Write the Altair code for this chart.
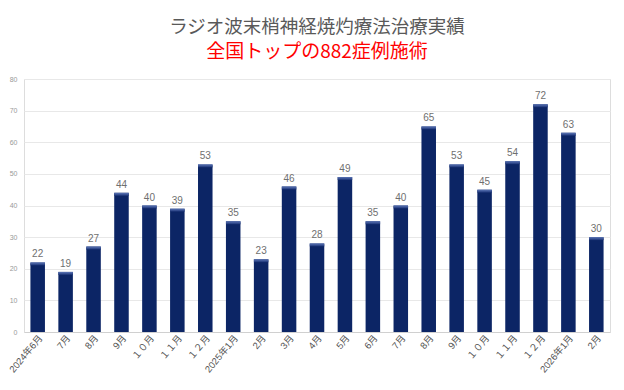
import json
import altair as alt
import pandas as pd

months = ["2024年6月", "7月", "8月", "9月", "１０月", "１１月", "１２月",
          "2025年1月", "2月", "3月", "4月", "5月", "6月", "7月", "8月", "9月",
          "１０月", "１１月", "１２月", "2026年1月", "2月"]
counts = [22, 19, 27, 44, 40, 39, 53, 35, 23, 46, 28, 49, 35, 40, 65, 53, 45, 54, 72, 63, 30]
y_ticks = [0, 10, 20, 30, 40, 50, 60, 70, 80]

title_text = "ラジオ波末梢神経焼灼療法治療実績"
subtitle_text = "全国トップの882症例施術"

df = pd.DataFrame({"idx": list(range(len(months))), "label": months, "count": counts})

FONT = "Noto Sans CJK JP"
NUMFONT = "Liberation Sans, Noto Sans CJK JP"

x_enc = alt.X(
    "idx:O",
    scale=alt.Scale(paddingInner=0.48, paddingOuter=0.23),
    axis=alt.Axis(
        title=None,
        labelExpr=json.dumps(months, ensure_ascii=False) + "[datum.value]",
        labelAngle=-50,
        labelAlign="right",
        labelBaseline="middle",
        labelFontSize=9.5,
        labelColor="#555555",
        labelPadding=4,
        labelOffset=3,
        labelOverlap=False,
        ticks=False,
        domainColor="#d0d0d0",
        grid=False,
        labelFont=NUMFONT,
    ),
)
y_enc = alt.Y(
    "count:Q",
    scale=alt.Scale(domain=[0, 80]),
    axis=alt.Axis(
        title=None,
        values=y_ticks,
        labelFontSize=7,
        labelColor="#999999",
        gridColor="#e8e8e8",
        ticks=False,
        domain=False,
        labelPadding=7,
        labelOverlap=False,
        labelFont=NUMFONT,
    ),
)

base = alt.Chart(df)
bars = base.mark_bar(color="#0c2565").encode(x=x_enc, y=y_enc)
highlight = base.mark_bar(
    y2Offset=3,
    color=alt.Gradient(
        gradient="linear",
        stops=[alt.GradientStop(color="#5d77b8", offset=0), alt.GradientStop(color="#1a3275", offset=1)],
        x1=0, x2=0, y1=0, y2=1,
    ),
).encode(x=x_enc, y=y_enc, y2="count:Q")
labels = base.mark_text(dy=-8, fontSize=10, color="#6f6f6f", font=NUMFONT).encode(
    x=x_enc, y=y_enc, text="count:Q"
)

chart = (
    alt.layer(bars, highlight, labels)
    .properties(
        width=586,
        height=253,
        autosize="none",
        padding={"left": 16, "top": 71, "right": 6, "bottom": 50},
        title=alt.TitleParams(
            text=title_text,
            subtitle=subtitle_text,
            font=FONT,
            fontSize=18.5,
            fontWeight="normal",
            color="#595959",
            subtitleFont=FONT,
            subtitleFontSize=19,
            subtitleColor="#ff0000",
            subtitlePadding=7,
            anchor="middle",
            offset=13,
        ),
    )
    .configure_view(stroke=None)
    .configure(background="white")
)

chart.save("out.html", embed_options={"renderer": "svg", "actions": False})
